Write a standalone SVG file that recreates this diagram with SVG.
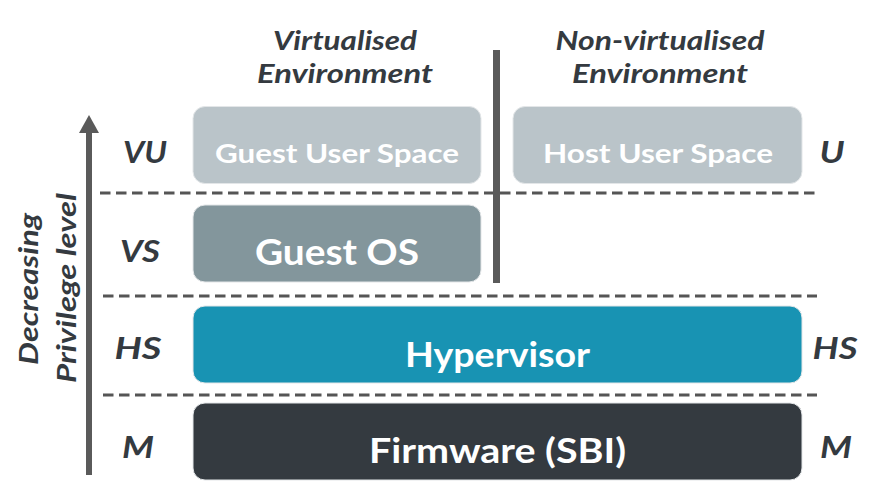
<svg xmlns="http://www.w3.org/2000/svg" width="894" height="494" viewBox="0 0 894 494">
<style>
.lbl{font-family:Lato,"Open Sans","Liberation Sans",sans-serif;font-weight:bold;font-style:italic;fill:#343a40;text-anchor:middle}
.nt{font-family:Lato,"Open Sans","Liberation Sans",sans-serif;font-weight:bold;fill:#ffffff;text-anchor:middle}
.dash{stroke:#555555;stroke-width:3;stroke-dasharray:10.5 5.5;fill:none}
.box{stroke:#e3e6e8;stroke-width:1}
</style>
<rect width="894" height="494" fill="#ffffff"/>
<g id="headers">
<text class="lbl" x="345" y="50" font-size="26" textLength="144" lengthAdjust="spacingAndGlyphs">Virtualised</text>
<text class="lbl" x="345" y="83" font-size="26" textLength="176" lengthAdjust="spacingAndGlyphs">Environment</text>
<text class="lbl" x="660" y="50" font-size="26" textLength="209" lengthAdjust="spacingAndGlyphs">Non-virtualised</text>
<text class="lbl" x="660" y="83" font-size="26" textLength="176" lengthAdjust="spacingAndGlyphs">Environment</text>
</g>
<g id="connectors">
<line class="dash" x1="100" y1="193" x2="815" y2="193"/>
<line class="dash" x1="103" y1="296" x2="817" y2="296"/>
<line class="dash" x1="103" y1="395" x2="817" y2="395"/>
<rect x="493" y="50" width="7" height="233" fill="#5a5a5a"/>
<line x1="89" y1="130" x2="89" y2="475" stroke="#5a5a5a" stroke-width="6"/>
<polygon points="79,133 89,115 99,133" fill="#5a5a5a"/>
</g>
<g id="axis-label">
<text class="lbl" font-size="27" transform="translate(38,289) rotate(-90)" x="0" y="0" textLength="152" lengthAdjust="spacingAndGlyphs">Decreasing</text>
<text class="lbl" font-size="27" transform="translate(76,288) rotate(-90)" x="0" y="0" textLength="190" lengthAdjust="spacingAndGlyphs">Privilege level</text>
</g>
<g id="levels">
<text class="lbl" x="145" y="163" font-size="30" textLength="44" lengthAdjust="spacingAndGlyphs">VU</text>
<text class="lbl" x="140" y="262" font-size="30" textLength="40" lengthAdjust="spacingAndGlyphs">VS</text>
<text class="lbl" x="138" y="359" font-size="30" textLength="47" lengthAdjust="spacingAndGlyphs">HS</text>
<text class="lbl" x="138" y="458" font-size="30" textLength="32" lengthAdjust="spacingAndGlyphs">M</text>
<text class="lbl" x="832" y="163" font-size="30" textLength="25" lengthAdjust="spacingAndGlyphs">U</text>
<text class="lbl" x="835" y="359" font-size="30" textLength="45" lengthAdjust="spacingAndGlyphs">HS</text>
<text class="lbl" x="836" y="458" font-size="30" textLength="32" lengthAdjust="spacingAndGlyphs">M</text>
</g>
<g id="guest-user-space">
<rect class="box" x="193" y="106.5" width="288" height="77" rx="12" fill="#bac4c9"/>
<text class="nt" x="337" y="163" font-size="26" textLength="244" lengthAdjust="spacingAndGlyphs">Guest User Space</text>
</g>
<g id="host-user-space">
<rect class="box" x="513" y="106.5" width="289" height="77" rx="12" fill="#bac4c9"/>
<text class="nt" x="658" y="163" font-size="26" textLength="230" lengthAdjust="spacingAndGlyphs">Host User Space</text>
</g>
<g id="guest-os">
<rect class="box" x="193" y="205" width="288" height="77" rx="12" fill="#83969c"/>
<text class="nt" x="337" y="265" font-size="36" textLength="164" lengthAdjust="spacingAndGlyphs">Guest OS</text>
</g>
<g id="hypervisor">
<rect class="box" x="193" y="306" width="609" height="77" rx="12" fill="#1893b3"/>
<text class="nt" x="497.5" y="367" font-size="34" textLength="185" lengthAdjust="spacingAndGlyphs">Hypervisor</text>
</g>
<g id="firmware">
<rect class="box" x="193" y="403" width="609" height="77" rx="12" fill="#343a40"/>
<text class="nt" x="497.5" y="463" font-size="34" textLength="257" lengthAdjust="spacingAndGlyphs">Firmware (SBI)</text>
</g>
</svg>
